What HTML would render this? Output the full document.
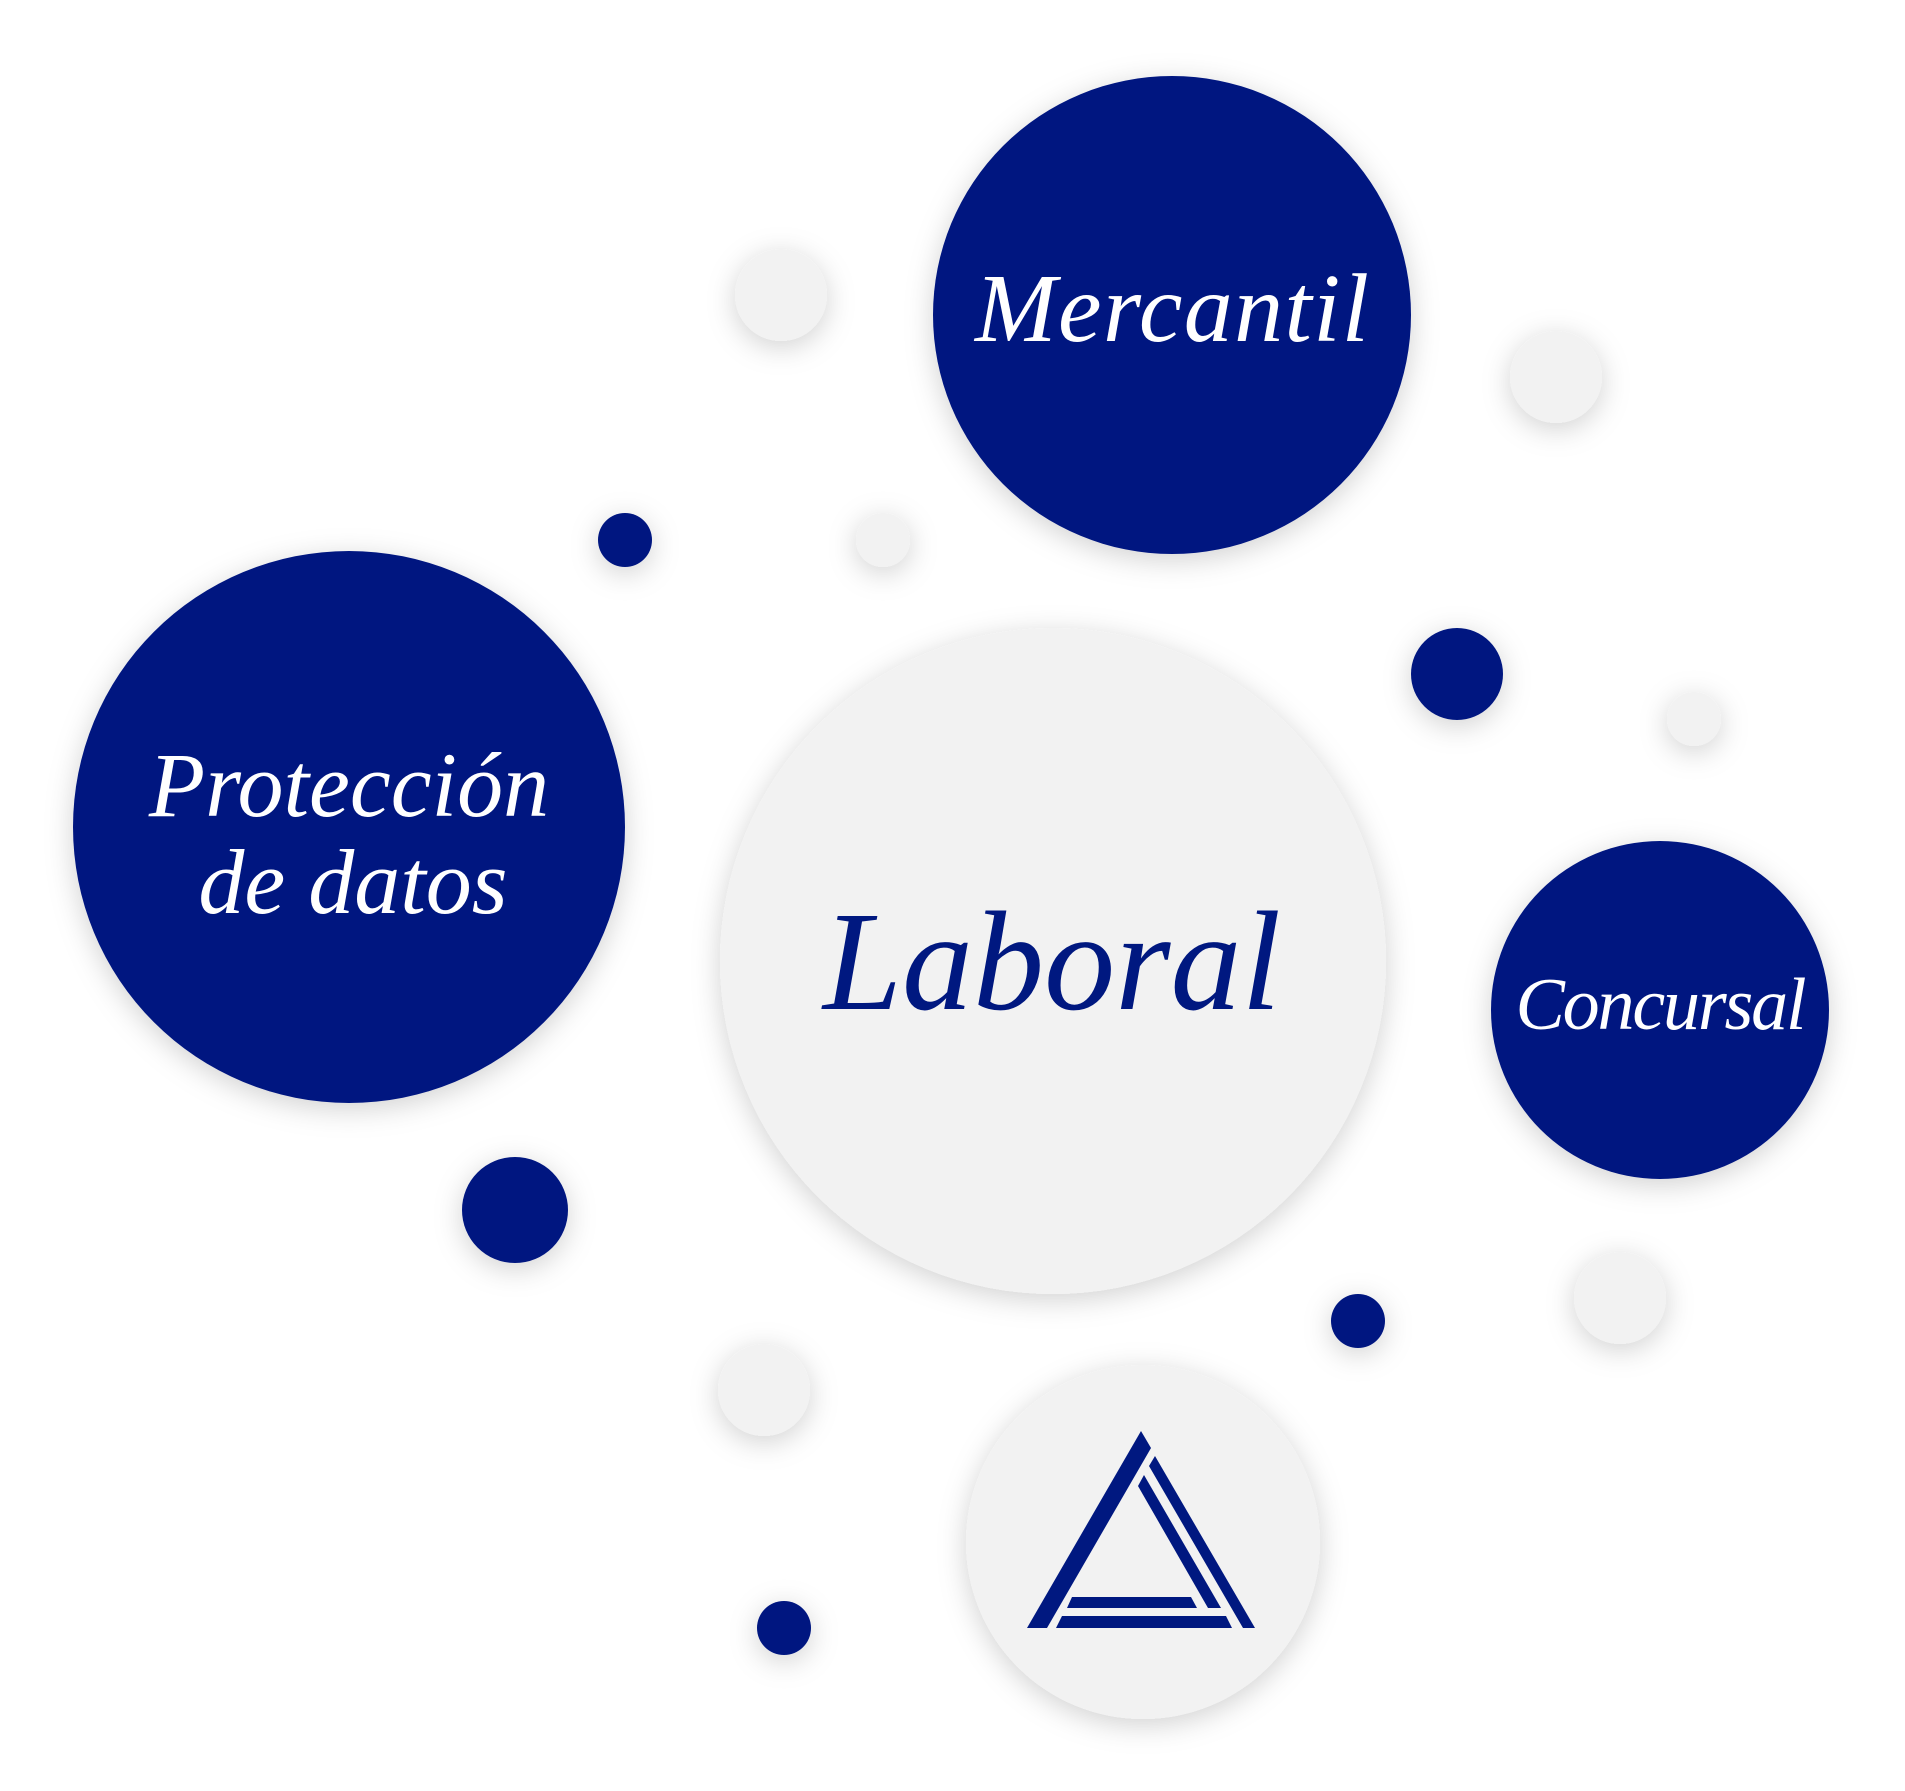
<!DOCTYPE html>
<html><head><meta charset="utf-8"><style>
html,body{margin:0;padding:0;background:#fff;}
svg{display:block;}
text{font-family:"Liberation Serif",serif;font-style:italic;}
</style></head><body>
<svg width="1905" height="1791" xmlns="http://www.w3.org/2000/svg">
<defs>
<filter id="sh" x="-30%" y="-30%" width="160%" height="160%">
<feDropShadow dx="0" dy="6" stdDeviation="14" flood-color="#000" flood-opacity="0.18"/>
</filter>
</defs>
<g transform="translate(-5,-5)">
<g filter="url(#sh)">
<circle cx="786" cy="300" r="46" fill="#f2f2f2"/>
<circle cx="1561" cy="382" r="46" fill="#f2f2f2"/>
<circle cx="888" cy="545" r="27" fill="#f2f2f2"/>
<circle cx="1699" cy="724" r="27" fill="#f2f2f2"/>
<circle cx="1625" cy="1303" r="46" fill="#f2f2f2"/>
<circle cx="769" cy="1395" r="46" fill="#f2f2f2"/>
<circle cx="630" cy="545" r="27" fill="#001880"/>
<circle cx="1462" cy="679" r="46" fill="#001880"/>
<circle cx="520" cy="1215" r="53" fill="#001880"/>
<circle cx="1363" cy="1326" r="27" fill="#001880"/>
<circle cx="789" cy="1633" r="27" fill="#001880"/>
<circle cx="1177" cy="320" r="239" fill="#001880"/>
<circle cx="354" cy="832" r="276" fill="#001880"/>
<circle cx="1058" cy="966" r="333" fill="#f2f2f2"/>
<circle cx="1665" cy="1015" r="169" fill="#001880"/>
<circle cx="1148" cy="1547" r="177" fill="#f2f2f2"/>
</g>
<text x="1177" y="346" font-size="98" fill="#fff" text-anchor="middle" textLength="394">Mercantil</text>
<text x="354" y="821" font-size="92" fill="#fff" text-anchor="middle">Protección</text>
<text x="358" y="918" font-size="92" fill="#fff" text-anchor="middle">de datos</text>
<text x="1057" y="1014" font-size="142" fill="#001880" text-anchor="middle" textLength="458">Laboral</text>
<text x="1666" y="1034" font-size="74" fill="#fff" text-anchor="middle" textLength="291">Concursal</text>
</g>
<g fill="#001880">
<polygon points="1141,1431 1151,1448 1047,1628 1027,1628"/>
<polygon points="1155,1456 1255,1628 1243,1628 1149,1466"/>
<polygon points="1144,1475 1221,1608 1208,1608 1138,1486"/>
<polygon points="1062,1616 1226,1616 1232,1628 1056,1628"/>
<polygon points="1072,1597 1191,1597 1197,1608 1067,1608"/>
</g>
</svg>
</body></html>
